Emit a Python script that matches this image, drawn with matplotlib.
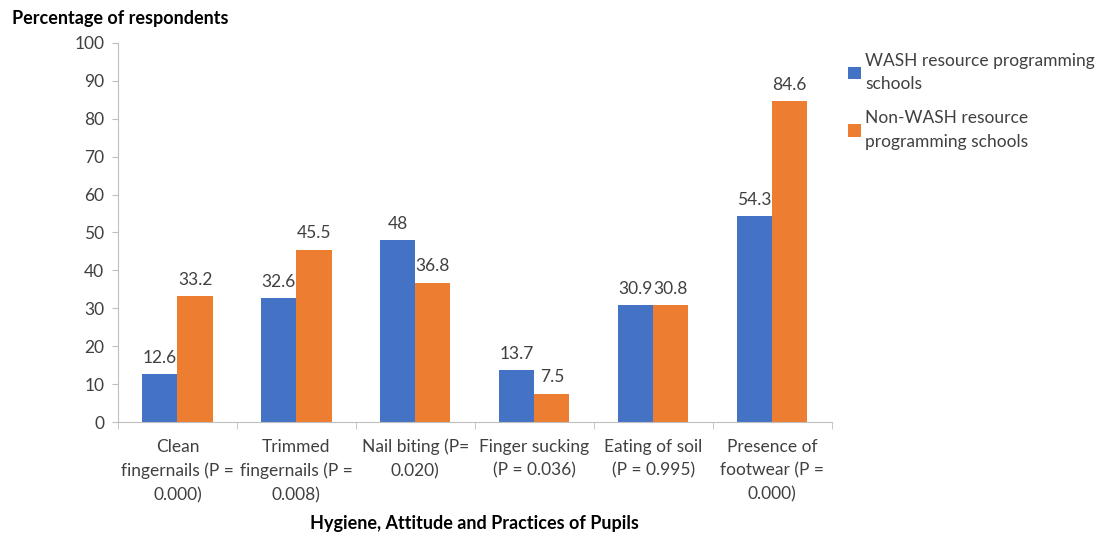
import matplotlib
matplotlib.use("Agg")
import matplotlib.pyplot as plt
import numpy as np

plt.rcParams['font.family'] = ['Lato', 'DejaVu Sans']

categories = [
    "Clean\nfingernails (P =\n0.000)",
    "Trimmed\nfingernails (P =\n0.008)",
    "Nail biting (P=\n0.020)",
    "Finger sucking\n(P = 0.036)",
    "Eating of soil\n(P = 0.995)",
    "Presence of\nfootwear (P =\n0.000)",
]
wash = [12.6, 32.6, 48, 13.7, 30.9, 54.3]
non_wash = [33.2, 45.5, 36.8, 7.5, 30.8, 84.6]
wash_labels = ["12.6", "32.6", "48", "13.7", "30.9", "54.3"]
non_wash_labels = ["33.2", "45.5", "36.8", "7.5", "30.8", "84.6"]
series_names = ["WASH resource programming\nschools",
                "Non-WASH resource\nprogramming schools"]

blue = "#4472C4"
orange = "#ED7D31"
text_col = "#404040"
axis_col = "#bfbfbf"
fs = 12.5

fig = plt.figure(figsize=(11.03, 5.35), dpi=100)
ax = fig.add_axes([0.107, 0.211, 0.647, 0.709])

x = np.arange(len(categories))
w = 0.295
b1 = ax.bar(x - w / 2, wash, w, color=blue, label=series_names[0])
b2 = ax.bar(x + w / 2, non_wash, w, color=orange, label=series_names[1])

for bars, labs in ((b1, wash_labels), (b2, non_wash_labels)):
    for rect, lab in zip(bars, labs):
        ax.text(rect.get_x() + rect.get_width() / 2, rect.get_height() + 2.2, lab,
                ha="center", va="bottom", fontsize=fs, color=text_col)

ax.set_xlim(-0.5, len(categories) - 0.5)
ax.set_ylim(0, 100)
ax.set_yticks(np.arange(0, 101, 10))
ax.tick_params(axis="y", colors=axis_col, labelcolor=text_col, labelsize=fs,
               length=4, direction="out", pad=6)

ax.set_xticks(x)
ax.set_xticklabels(categories, fontsize=fs, color=text_col, linespacing=1.6)
ax.tick_params(axis="x", length=0, pad=12)
ax.set_xticks(np.arange(-0.5, len(categories)), minor=True)
ax.tick_params(axis="x", which="minor", length=5, color=axis_col, direction="out")

for s in ["top", "right"]:
    ax.spines[s].set_visible(False)
for s in ["left", "bottom"]:
    ax.spines[s].set_color(axis_col)

fig.text(0.011, 0.965, "Percentage of respondents", fontsize=13, fontweight="bold",
         color="black", ha="left", va="center")
fig.text(0.43, 0.022, "Hygiene, Attitude and Practices of Pupils", fontsize=13,
         fontweight="bold", color="black", ha="center", va="center")

leg = fig.legend(loc="upper left", bbox_to_anchor=(0.755, 0.93), frameon=False,
                 fontsize=fs, handlelength=0.7, handleheight=0.7,
                 handletextpad=0.25, labelspacing=1.05)
for t in leg.get_texts():
    t.set_color(text_col)
    t.set_linespacing(1.55)

fig.savefig("out.png", dpi=100)
